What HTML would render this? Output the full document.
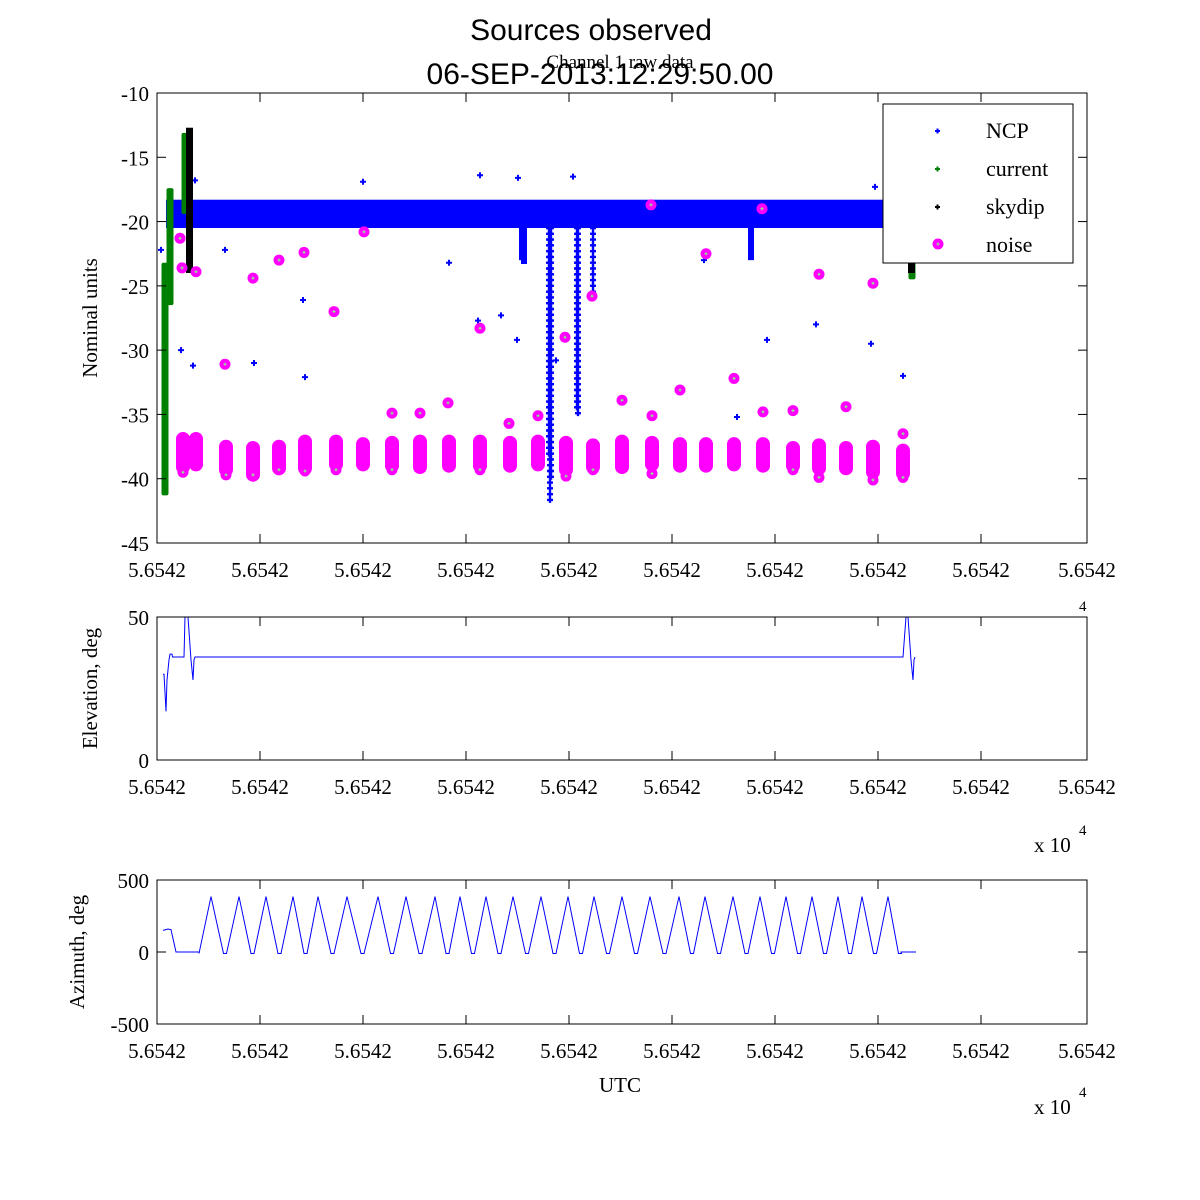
<!DOCTYPE html>
<html><head><meta charset="utf-8">
<style>
body{margin:0;background:#fff;}
svg{display:block;}
text{font-family:"Liberation Serif",serif;fill:#000;}
</style></head>
<body>
<svg id="chart" width="1200" height="1200" viewBox="0 0 1200 1200" xmlns="http://www.w3.org/2000/svg">
<rect width="1200" height="1200" fill="#fff"/>
<text x="591" y="40" text-anchor="middle" style="font-family:'Liberation Sans',sans-serif;font-size:30px">Sources observed</text>
<text x="620" y="68" text-anchor="middle" style="font-size:19px">Channel 1 raw data</text>
<text x="600" y="84" text-anchor="middle" style="font-family:'Liberation Sans',sans-serif;font-size:30px">06-SEP-2013:12:29:50.00</text>
<g id="g"></g>
</svg>
<script>
// ---- data (time in seconds offset, x axis 0..930) ----
const xTickLabels = ["5.6542","5.6542","5.6542","5.6542","5.6542","5.6542","5.6542","5.6542","5.6542","5.6542"];
const xTickVals = [0,103,206,309,412,515,618,721,824,930];
const topYTicks = [-10,-15,-20,-25,-30,-35,-40,-45];
const elYTicks = [0,50];
const azYTicks = [-500,0,500];
// NCP band
const ncpBandStart = 9, ncpBandEnd = 755, ncpBandHi = -18.3, ncpBandLo = -20.5;
// NCP dips: [time, lowest value]
const ncpDipTimes = [365,367,392,393,394,420,421,436,594];
const ncpDipLows  = [-23,-23.3,-38.5,-42,-40,-34.5,-35,-26,-23];
// NCP stray points
const ncpStrayT = [4,24,36,38,68,97,146,148,206,292,321,323,361,344,360,399,416,495,547,580,610,659,714,718,746];
const ncpStrayV = [-22.2,-30,-31.2,-16.8,-22.2,-31,-26.1,-32.1,-16.9,-23.2,-27.7,-16.4,-16.6,-27.3,-29.2,-30.8,-16.5,-35.1,-23,-35.2,-29.2,-28,-29.5,-17.3,-32];
// current / skydip segments: [time, top, bottom]
const curT = [8,13,28,755];
const curTop = [-23.2,-17.4,-13.1,-23];
const curBot = [-41.3,-26.5,-19.4,-24.5];
const skyT = [33,755];
const skyTop = [-12.7,-22.5];
const skyBot = [-24,-24];
// noise columns
const noiseColT = [26,39,69,96,122,148,179,206,235,263,292,323,353,381,409,436,465,495,523,549,577,606,636,662,689,716,746];
const noiseColTop = [-36.6,-36.6,-37.2,-37.3,-37.2,-36.8,-36.8,-37,-36.9,-36.8,-36.8,-36.8,-36.9,-36.8,-36.9,-37.1,-36.8,-36.9,-37,-37,-37,-37,-37.3,-37.1,-37.3,-37.2,-37.5];
const noiseColBot = [-39.4,-39.2,-39.6,-40,-39.5,-39.5,-39.2,-39.2,-39.3,-39.4,-39.3,-39.3,-39.3,-39.2,-39.6,-39.4,-39.4,-39.2,-39.3,-39.3,-39.2,-39.3,-39.3,-39.5,-39.5,-39.8,-39.9];
// noise single points
const noiseT = [23,25,39,68,96,122,147,177,207,235,263,291,323,352,381,408,435,465,494,495,523,549,577,605,606,636,662,689,716,746,
  26,69,96,122,148,179,235,323,409,436,495,636,662,716,746];
const noiseV = [-21.3,-23.6,-23.9,-31.1,-24.4,-23,-22.4,-27,-20.8,-34.9,-34.9,-34.1,-28.3,-35.7,-35.1,-29,-25.8,-33.9,-18.7,-35.1,-33.1,-22.5,-32.2,-19,-34.8,-34.7,-24.1,-34.4,-24.8,-36.5,
  -39.5,-39.7,-39.7,-39.3,-39.4,-39.3,-39.3,-39.3,-39.8,-39.3,-39.6,-39.3,-39.9,-40.1,-39.9];
// elevation
const elT = [6,7,9,10,12,13,15,15.5,27,28,31,34,36,37,38,746,749,751,754,756,757,758];
const elV = [30,30,17,28,35,37,37,36,36,50,50,35,28,35,36,36,50,50,35,28,35,36];
// azimuth
const azPeakT = [54,82,109,136,161,190,221,249,278,303,329,356,384,411,437,465,493,522,548,576,603,629,655,681,705,731];
const azPeakV = [385,385,385,385,385,385,385,385,385,385,385,385,385,385,385,385,385,385,385,385,385,385,385,385,385,385];
const azTroughV = -10;
const azStartT = [6,11,14,19,42], azStartV = [150,160,155,0,0];
const azEndT = [744,759], azEndV = [0,0];

// ---- scales ----
const X0=157, X1=1087;
const x = t => X0 + t*(X1-X0)/930;
const yTop = v => 93 + (-10 - v)*450/35;
const yEl = v => 760 - v*143/50;
const yAz = v => 952 - v*144/1000;
const NS="http://www.w3.org/2000/svg";
const g=document.getElementById('g');
function el(tag,attrs,parent){const e=document.createElementNS(NS,tag);for(const k in attrs)e.setAttribute(k,attrs[k]);(parent||g).appendChild(e);return e;}
function txt(s,attrs,parent){const e=el('text',attrs,parent);e.textContent=s;return e;}

function axes(name,top,bottom,yTicks,yf,ylabel,ylabelX){
  const grp=el('g',{});
  
  
  el('rect',{x:X0,y:top,width:X1-X0,height:bottom-top,fill:'none',stroke:'#000','stroke-width':1},grp);
  xTickVals.forEach((t,i)=>{
    el('line',{x1:x(t),x2:x(t),y1:bottom,y2:bottom-9,stroke:'#000'},grp);
    el('line',{x1:x(t),x2:x(t),y1:top,y2:top+9,stroke:'#000'},grp);
    const l=txt(xTickLabels[i],{x:x(t),y:bottom+34,'text-anchor':'middle','font-size':'21'},grp);
    
    
  });
  yTicks.forEach(v=>{
    el('line',{x1:X0,x2:X0+9,y1:yf(v),y2:yf(v),stroke:'#000'},grp);
    el('line',{x1:X1,x2:X1-9,y1:yf(v),y2:yf(v),stroke:'#000'},grp);
    const l=txt(String(v),{x:X0-8,y:yf(v)+8,'text-anchor':'end','font-size':'21'},grp);
    
    
  });
  const cy=(top+bottom)/2;
  const yl=txt(ylabel,{x:ylabelX,y:cy,'text-anchor':'middle','font-size':'21',transform:`rotate(-90 ${ylabelX} ${cy})`},grp);
  
  
  return grp;
}

// ---- top plot ----
const plot=el('g',{});


noiseColT.forEach((t,i)=>{
  const r=el('rect',{x:x(t)-7,y:yTop(noiseColTop[i])-3,width:14,height:yTop(noiseColBot[i])-yTop(noiseColTop[i])+6,rx:7,fill:'#ff00ff'},plot);
  
  
});
const band=el('rect',{x:x(ncpBandStart),y:yTop(ncpBandHi),width:x(ncpBandEnd)-x(ncpBandStart),height:yTop(ncpBandLo)-yTop(ncpBandHi),fill:'#0000ff'},plot);


ncpDipTimes.forEach((t,i)=>{
  const lo=ncpDipLows[i];
  const dense = lo > -26;
  if(dense){
    const r=el('rect',{x:x(t)-3,y:yTop(-20),width:6,height:yTop(lo)-yTop(-20),fill:'#0000ff'},plot);
    
    
  } else {
    for(let v=-20.5; v>=lo; v-=0.45){
      const d=el('path',{d:`M${x(t)-3},${yTop(v)}h6M${x(t)},${yTop(v)-3}v6`,stroke:'#0000ff','stroke-width':2.4},plot);
      
      
    }
  }
});
ncpStrayT.forEach((t,i)=>{
  const d=el('path',{d:`M${x(t)-3},${yTop(ncpStrayV[i])}h6M${x(t)},${yTop(ncpStrayV[i])-3}v6`,stroke:'#0000ff','stroke-width':2},plot);
  
  
});
curT.forEach((t,i)=>{
  const r=el('rect',{x:x(t)-3.5,y:yTop(curTop[i]),width:7,height:yTop(curBot[i])-yTop(curTop[i]),rx:2,fill:'#008000'},plot);
  
  
});
skyT.forEach((t,i)=>{
  const r=el('rect',{x:x(t)-4,y:yTop(skyTop[i]),width:7,height:yTop(skyBot[i])-yTop(skyTop[i]),fill:'#000'},plot);
  
  
});
noiseT.forEach((t,i)=>{
  const c=el('circle',{cx:x(t),cy:yTop(noiseV[i]),r:5.5,fill:'#ff00ff'},plot);
  
  
  el('path',{d:`M${x(t)-1.5},${yTop(noiseV[i])}h3M${x(t)},${yTop(noiseV[i])-1.5}v3`,stroke:'#80ff80','stroke-width':1},plot);
});
axes('raw-data-axes',93,543,topYTicks,yTop,'Nominal units',97);

// legend
const lg=el('g',{});


el('rect',{x:883,y:104,width:190,height:159,fill:'#fff',stroke:'#000'},lg);
const legNames=['NCP','current','skydip','noise'];
const legCols=['#0000ff','#008000','#000','#ff00ff'];
legNames.forEach((n,i)=>{
  const yy=130+i*38;
  if(i<3) el('path',{d:`M935,${yy+1}h5M937.5,${yy-1.5}v5`,stroke:legCols[i],'stroke-width':2},lg);
  else { el('circle',{cx:938,cy:yy,r:5.5,fill:'#ff00ff'},lg); el('path',{d:`M936.5,${yy}h3M938,${yy-1.5}v3`,stroke:'#80ff80'},lg); }
  const l=txt(n,{x:986,y:yy+8,'font-size':'22'},lg);
  
  
});

// ---- elevation ----
const ep=el('polyline',{points:elT.map((t,i)=>x(t)+','+yEl(elV[i])).join(' '),fill:'none',stroke:'#0000ff','stroke-width':1});


axes('elevation-axes',617,760,elYTicks,yEl,'Elevation, deg',97);
const e1=txt('4',{x:1079,y:611,'font-size':'15'});


const e2=txt('x 10',{x:1034,y:852,'font-size':'21'});


const e3=txt('4',{x:1079,y:835,'font-size':'15'});



// ---- azimuth ----
let pts=azStartT.map((t,i)=>[t,azStartV[i]]);
pts.push([azPeakT[0]-12,azTroughV]);
azPeakT.forEach((t,i)=>{
  pts.push([t,azPeakV[i]]);
  const nxt = i<azPeakT.length-1 ? azPeakT[i+1] : t+24;
  const mid=(t+nxt)/2;
  pts.push([mid-1.5,azTroughV]); pts.push([mid+1.5,azTroughV]);
});
azEndT.forEach((t,i)=>pts.push([t,azEndV[i]]));
const ap=el('polyline',{points:pts.map(p=>x(p[0])+','+yAz(p[1])).join(' '),fill:'none',stroke:'#0000ff','stroke-width':1});


axes('azimuth-axes',880,1024,azYTicks,yAz,'Azimuth, deg',84);
const xl=txt('UTC',{x:620,y:1092,'text-anchor':'middle','font-size':'21'});


const e4=txt('x 10',{x:1034,y:1114,'font-size':'21'});


const e5=txt('4',{x:1079,y:1097,'font-size':'15'});


</script>
</body></html>
